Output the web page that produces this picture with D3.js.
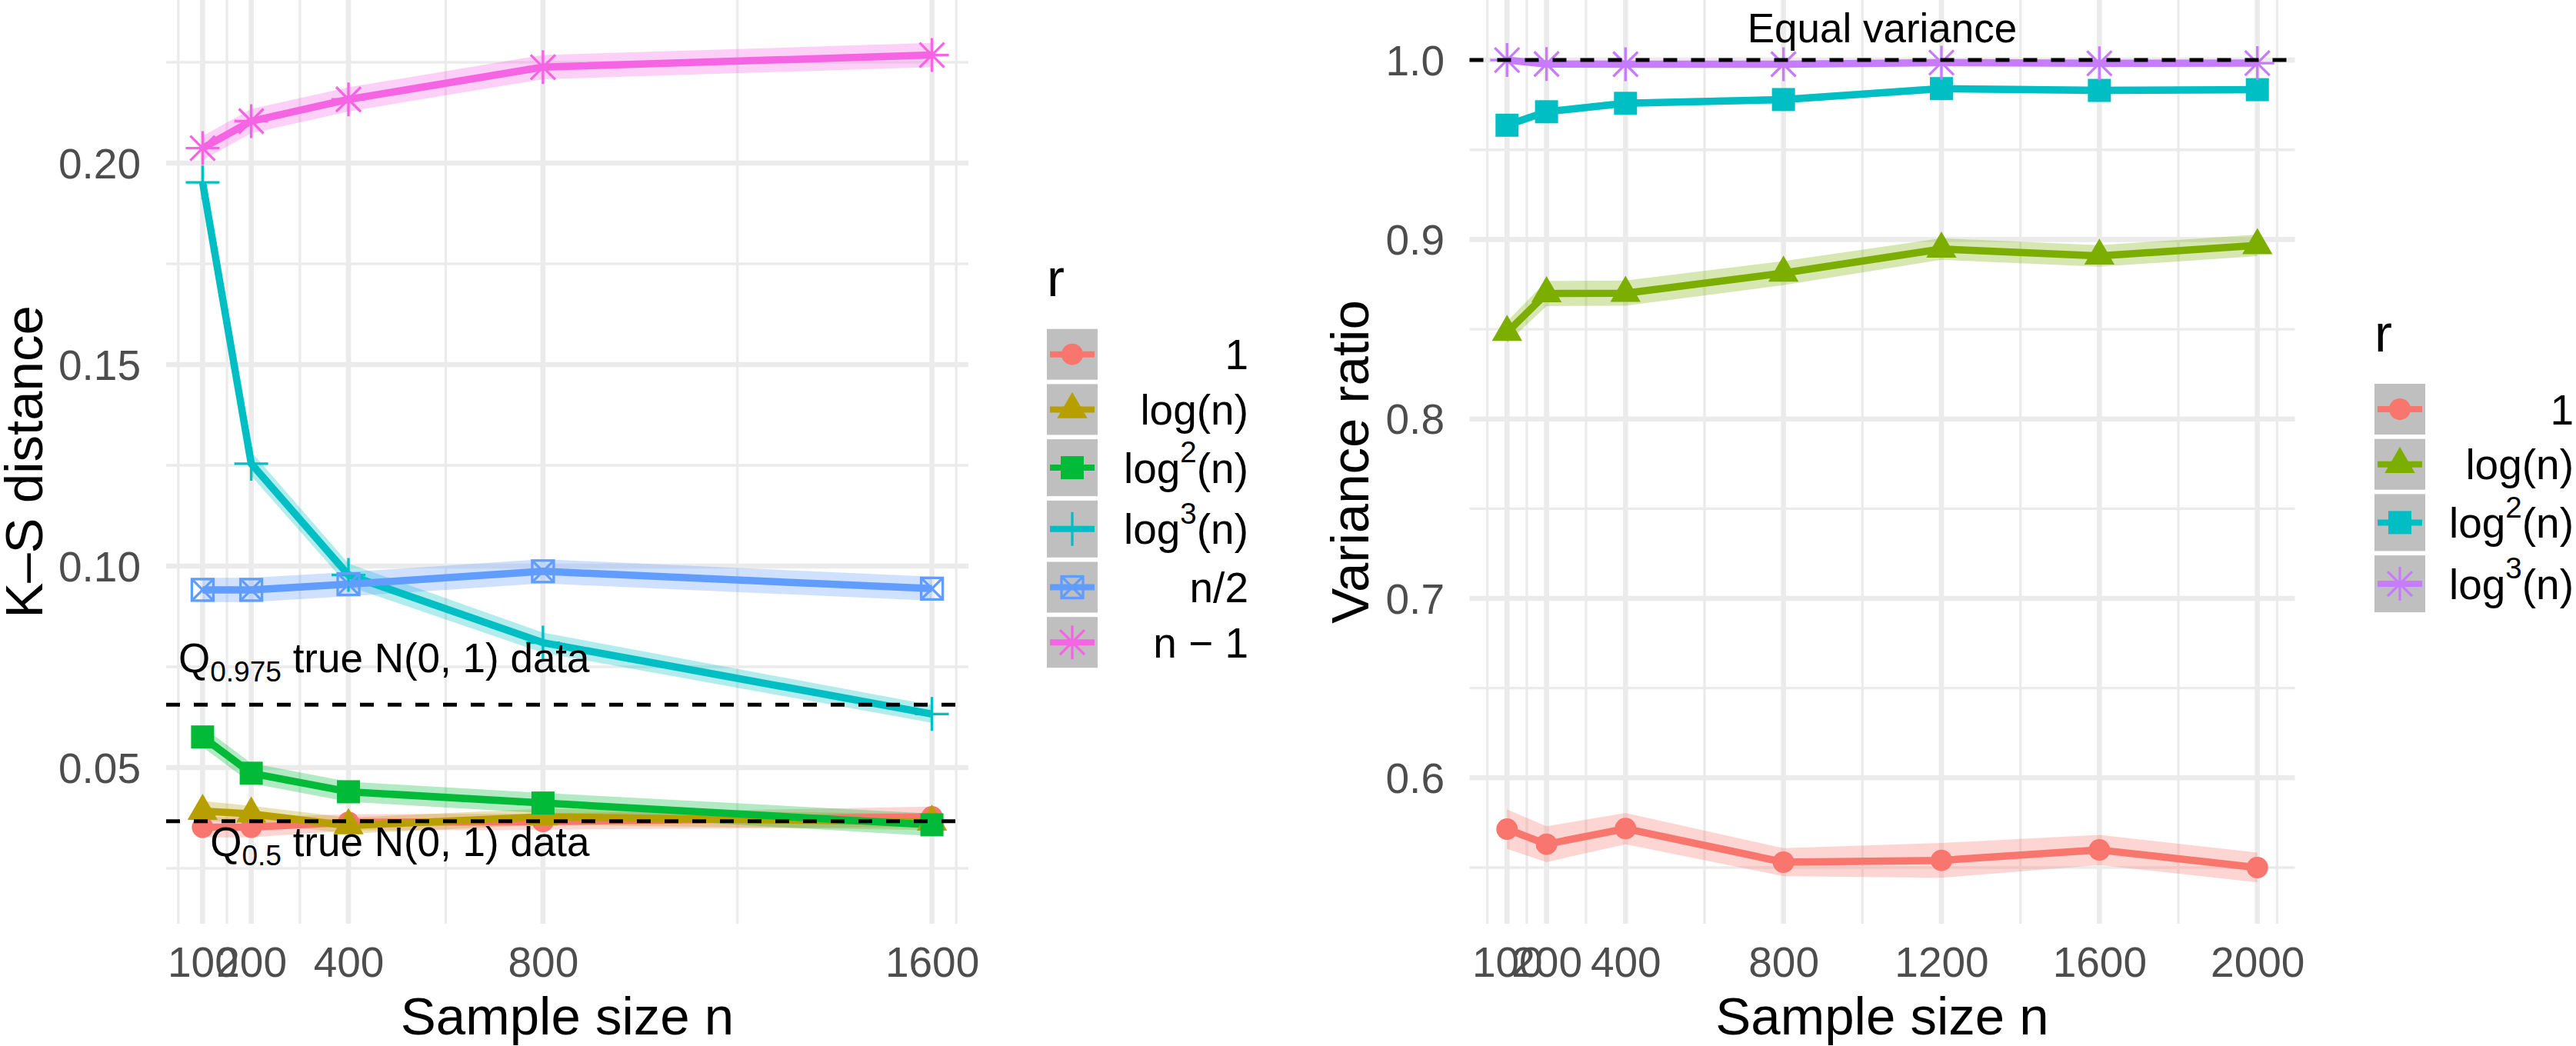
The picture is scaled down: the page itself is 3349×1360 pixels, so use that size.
<!DOCTYPE html>
<html>
<head>
<meta charset="utf-8">
<script src="https://cdn.jsdelivr.net/npm/d3@7"></script>
<style>
  body { margin: 0; background: #fff; }
  svg { display: block; }
  text { font-family: "Liberation Sans", Arial, Helvetica, sans-serif; }
</style>
</head>
<body>
<svg id="chart" width="3349" height="1360"></svg>
<script>
// ---------------- DATA ----------------
// Left panel: K-S distance
const ksN = [100, 200, 400, 800, 1600];
const ksR = ["1", "log(n)", "log^2(n)", "log^3(n)", "n/2", "n \u2212 1"];
const ksMean_1     = [0.0352, 0.0352, 0.0364, 0.0366, 0.0378];
const ksMean_log   = [0.0392, 0.0385, 0.0356, 0.0378, 0.0365];
const ksMean_log2  = [0.0576, 0.0486, 0.0440, 0.0412, 0.0358];
const ksMean_log3  = [0.1952, 0.1254, 0.0978, 0.0810, 0.0633];
const ksMean_half  = [0.0941, 0.0941, 0.0955, 0.0987, 0.0944];
const ksMean_nm1   = [0.2037, 0.2104, 0.2158, 0.2238, 0.2268];
const ksHW_1       = [0.0025, 0.0025, 0.0020, 0.0020, 0.0025];
const ksHW_log     = [0.0025, 0.0020, 0.0020, 0.0020, 0.0020];
const ksHW_log2    = [0.0025, 0.0025, 0.0025, 0.0025, 0.0028];
const ksHW_log3    = [0.0020, 0.0030, 0.0028, 0.0025, 0.0022];
const ksHW_half    = [0.0030, 0.0030, 0.0030, 0.0030, 0.0030];
const ksHW_nm1     = [0.0030, 0.0030, 0.0030, 0.0030, 0.0030];
const ksYTicks = [0.05, 0.10, 0.15, 0.20];
const ksYTickLabels = ["0.05", "0.10", "0.15", "0.20"];
const ksXTicks = [100, 200, 400, 800, 1600];
const ksRefLines = [0.0656, 0.0367];
const ksRefLabels = ["Q_0.975 true N(0, 1) data", "Q_0.5 true N(0, 1) data"];

// Right panel: variance ratio
const varN = [100, 200, 400, 800, 1200, 1600, 2000];
const varR = ["1", "log(n)", "log^2(n)", "log^3(n)"];
const varMean_1    = [0.5714, 0.5630, 0.5717, 0.5530, 0.5540, 0.5598, 0.5500];
const varMean_log  = [0.8483, 0.8699, 0.8701, 0.8813, 0.8947, 0.8909, 0.8967];
const varMean_log2 = [0.9637, 0.9712, 0.9759, 0.9780, 0.9841, 0.9831, 0.9835];
const varMean_log3 = [1.0000, 0.9978, 0.9977, 0.9977, 0.9986, 0.9982, 0.9983];
const varHW_1      = [0.0110, 0.0100, 0.0087, 0.0078, 0.0097, 0.0084, 0.0083];
const varHW_log    = [0.0060, 0.0070, 0.0070, 0.0067, 0.0060, 0.0060, 0.0060];
const varHW_log2   = [0.0020, 0.0020, 0.0020, 0.0020, 0.0020, 0.0020, 0.0020];
const varHW_log3   = [0.0010, 0.0010, 0.0010, 0.0010, 0.0010, 0.0010, 0.0010];
const varYTicks = [0.6, 0.7, 0.8, 0.9, 1.0];
const varYTickLabels = ["0.6", "0.7", "0.8", "0.9", "1.0"];
const varXTicks = [100, 200, 400, 800, 1200, 1600, 2000];
const varRefLines = [1.0];
const varRefLabels = ["Equal variance"];

// ---------------- STYLE ----------------
const ksColors  = ["#F8766D", "#B79F00", "#00BA38", "#00BFC4", "#619CFF", "#F564E3"];
const ksShapes  = ["circle", "triangle", "square", "plus", "squarecross", "asterisk"];
const varColors = ["#F8766D", "#7CAE00", "#00BFC4", "#C77CFF"];
const varShapes = ["circle", "triangle", "square", "asterisk"];

const FS_TICK = 55, FS_TITLE = 69, FS_LEG = 55, FS_ANN = 53;
const GRID = "#EBEBEB";
const svg = d3.select("#chart");

function richText(sel, str, fs) {
  const sup = str.match(/^(.*)\^(\d)(.*)$/);
  const sub = str.match(/^(.*)_([0-9.]+)(.*)$/);
  if (sup) {
    const sh = fs * 0.48;
    sel.append("tspan").text(sup[1]);
    sel.append("tspan").attr("dy", -sh).attr("font-size", fs * 0.7).text(sup[2]);
    sel.append("tspan").attr("dy", sh).text(sup[3]);
  } else if (sub) {
    const sh = fs * 0.22;
    sel.append("tspan").text(sub[1]);
    sel.append("tspan").attr("dy", sh).attr("font-size", fs * 0.7).text(sub[2]);
    sel.append("tspan").attr("dy", -sh).text(sub[3]);
  } else {
    sel.text(str);
  }
}

function drawShape(g, shape, x, y, color) {
  const sw = 3.3;
  if (shape === "circle") {
    g.append("circle").attr("cx", x).attr("cy", y).attr("r", 14).attr("fill", color);
  } else if (shape === "triangle") {
    g.append("path").attr("d", `M${x},${y - 22.7}L${x + 19.7},${y + 11.3}L${x - 19.7},${y + 11.3}Z`).attr("fill", color);
  } else if (shape === "square") {
    g.append("rect").attr("x", x - 15).attr("y", y - 15).attr("width", 30).attr("height", 30).attr("fill", color);
  } else if (shape === "plus") {
    g.append("path").attr("d", `M${x - 22},${y}H${x + 22}M${x},${y - 22}V${y + 22}`)
      .attr("stroke", color).attr("stroke-width", sw).attr("fill", "none");
  } else if (shape === "asterisk") {
    g.append("path").attr("d", `M${x - 22},${y}H${x + 22}M${x},${y - 22}V${y + 22}M${x - 16},${y - 16}L${x + 16},${y + 16}M${x - 16},${y + 16}L${x + 16},${y - 16}`)
      .attr("stroke", color).attr("stroke-width", sw).attr("fill", "none");
  } else if (shape === "squarecross") {
    g.append("rect").attr("x", x - 14).attr("y", y - 14).attr("width", 28).attr("height", 28)
      .attr("stroke", color).attr("stroke-width", sw).attr("fill", "none");
    g.append("path").attr("d", `M${x - 14},${y - 14}L${x + 14},${y + 14}M${x - 14},${y + 14}L${x + 14},${y - 14}`)
      .attr("stroke", color).attr("stroke-width", sw).attr("fill", "none");
  }
}

function minorBreaks(b, lim) {
  const bd = b[1] - b[0];
  let bb = b.slice();
  if (lim[0] < bb[0]) bb = [bb[0] - bd].concat(bb);
  if (lim[1] > bb[bb.length - 1]) bb.push(bb[bb.length - 1] + bd);
  const out = [];
  for (let i = 0; i < bb.length - 1; i++) out.push((bb[i] + bb[i + 1]) / 2);
  return out.filter(v => v >= lim[0] && v <= lim[1]);
}

function drawPanel(cfg) {
  const g = svg.append("g");
  const x = d3.scaleLinear().domain(cfg.xDom).range([cfg.x0, cfg.x1]);
  const y = d3.scaleLinear().domain(cfg.yDom).range([cfg.y1, cfg.y0]);
  // grid
  const xMin = minorBreaks(cfg.xTicks, cfg.xDom), yMin = minorBreaks(cfg.yTicks, cfg.yDom);
  g.selectAll(".hmin").data(yMin).join("line")
    .attr("x1", cfg.x0).attr("x2", cfg.x1).attr("y1", d => y(d)).attr("y2", d => y(d))
    .attr("stroke", GRID).attr("stroke-width", 3.3);
  g.selectAll(".vmin").data(xMin).join("line")
    .attr("y1", cfg.y0).attr("y2", cfg.y1).attr("x1", d => x(d)).attr("x2", d => x(d))
    .attr("stroke", GRID).attr("stroke-width", 3.3);
  g.selectAll(".hmaj").data(cfg.yTicks).join("line")
    .attr("x1", cfg.x0).attr("x2", cfg.x1).attr("y1", d => y(d)).attr("y2", d => y(d))
    .attr("stroke", GRID).attr("stroke-width", 6.6);
  g.selectAll(".vmaj").data(cfg.xTicks).join("line")
    .attr("y1", cfg.y0).attr("y2", cfg.y1).attr("x1", d => x(d)).attr("x2", d => x(d))
    .attr("stroke", GRID).attr("stroke-width", 6.6);

  // axes text
  const yAxis = d3.axisLeft(y).tickValues(cfg.yTicks).tickFormat((d, i) => cfg.yTickLabels[i]).tickSize(0).tickPadding(0);
  const ya = g.append("g").attr("transform", `translate(${cfg.yLabelX},0)`).call(yAxis);
  ya.select(".domain").remove();
  ya.selectAll("text").attr("font-size", FS_TICK).attr("fill", "#4D4D4D")
    .attr("font-family", "Liberation Sans, Arial, sans-serif").attr("dy", "0.35em");
  const xAxis = d3.axisBottom(x).tickValues(cfg.xTicks).tickFormat(d3.format("d")).tickSize(0).tickPadding(0);
  const xa = g.append("g").attr("transform", `translate(0,0)`).call(xAxis);
  xa.select(".domain").remove();
  xa.selectAll("text").attr("font-size", FS_TICK).attr("fill", "#4D4D4D")
    .attr("font-family", "Liberation Sans, Arial, sans-serif").attr("y", 1270).attr("dy", 0);

  g.append("text").attr("x", (cfg.x0 + cfg.x1) / 2).attr("y", 1345).attr("text-anchor", "middle")
    .attr("font-size", FS_TITLE).attr("fill", "#000").text("Sample size n");
  g.append("text").attr("transform", `translate(${cfg.yTitleX},${(cfg.y0 + cfg.y1) / 2}) rotate(-90)`)
    .attr("text-anchor", "middle").attr("font-size", FS_TITLE).attr("fill", "#000").text(cfg.yTitle);

  // series
  const series = cfg.names.map((nm, i) => ({
    name: nm, color: cfg.colors[i], shape: cfg.shapes[i],
    pts: cfg.ns.map((n, j) => ({ n: n, v: cfg.means[i][j], hw: cfg.hws[i][j] }))
  }));
  const area = d3.area().x(d => x(d.n)).y0(d => y(d.v - d.hw)).y1(d => y(d.v + d.hw));
  const line = d3.line().x(d => x(d.n)).y(d => y(d.v));
  g.selectAll(".rib").data(series).join("path")
    .attr("d", s => area(s.pts)).attr("fill", s => s.color).attr("fill-opacity", 0.3);
  g.selectAll(".ln").data(series).join("path")
    .attr("d", s => line(s.pts)).attr("fill", "none").attr("stroke", s => s.color)
    .attr("stroke-width", 9.5).attr("stroke-linejoin", "round");
  series.forEach(s => s.pts.forEach(p => drawShape(g, s.shape, x(p.n), y(p.v), s.color)));

  // reference lines
  g.selectAll(".ref").data(cfg.refLines).join("line")
    .attr("x1", cfg.x0).attr("x2", cfg.x1).attr("y1", d => y(d)).attr("y2", d => y(d))
    .attr("stroke", "#000").attr("stroke-width", 5).attr("stroke-dasharray", "18,18");
  cfg.refLabels.forEach((lab, i) => {
    const t = g.append("text").attr("x", x(cfg.refLabelPos[i][0])).attr("y", y(cfg.refLabelPos[i][1]))
      .attr("text-anchor", cfg.refAnchor).attr("font-size", FS_ANN).attr("fill", "#000");
    richText(t, lab, FS_ANN);
  });

  // legend
  const lg = svg.append("g");
  lg.append("text").attr("x", cfg.legX).attr("y", cfg.legTitleY).attr("font-size", FS_TITLE).attr("fill", "#000").text("r");
  let top = cfg.legTop;
  series.forEach(s => {
    const h = s.name.includes("^") ? 74 : 66;
    lg.append("rect").attr("x", cfg.legX).attr("y", top).attr("width", 66).attr("height", h).attr("fill", "#BFBFBF");
    const cy = top + h / 2;
    lg.append("line").attr("x1", cfg.legX + 4).attr("x2", cfg.legX + 62).attr("y1", cy).attr("y2", cy)
      .attr("stroke", s.color).attr("stroke-width", 8);
    drawShape(lg, s.shape, cfg.legX + 33, cy, s.color);
    const t = lg.append("text").attr("x", cfg.legLabelX).attr("y", cy).attr("dy", FS_LEG * 0.355)
      .attr("text-anchor", "end").attr("font-size", FS_LEG).attr("fill", "#000");
    richText(t, s.name, FS_LEG);
    top += h + 5.7;
  });
}

drawPanel({
  x0: 216, x1: 1259, y0: 0, y1: 1201,
  xDom: [25, 1675], yDom: [0.01126, 0.24046],
  xTicks: ksXTicks, yTicks: ksYTicks, yTickLabels: ksYTickLabels,
  yLabelX: 183, yTitleX: 55, yTitle: "K\u2013S distance",
  ns: ksN, names: ksR, colors: ksColors, shapes: ksShapes,
  means: [ksMean_1, ksMean_log, ksMean_log2, ksMean_log3, ksMean_half, ksMean_nm1],
  hws: [ksHW_1, ksHW_log, ksHW_log2, ksHW_log3, ksHW_half, ksHW_nm1],
  refLines: ksRefLines, refLabels: ksRefLabels,
  refLabelPos: [[896, 0.0736], [896, 0.0280]], refAnchor: "end",
  legX: 1361, legTitleY: 385, legTop: 427.7, legLabelX: 1623
});

drawPanel({
  x0: 1910.5, x1: 2983.5, y0: 0, y1: 1201,
  xDom: [5, 2095], yDom: [0.5187, 1.03348],
  xTicks: varXTicks, yTicks: varYTicks, yTickLabels: varYTickLabels,
  yLabelX: 1878, yTitleX: 1779, yTitle: "Variance ratio",
  ns: varN, names: varR, colors: varColors, shapes: varShapes,
  means: [varMean_1, varMean_log, varMean_log2, varMean_log3],
  hws: [varHW_1, varHW_log, varHW_log2, varHW_log3],
  refLines: varRefLines, refLabels: varRefLabels,
  refLabelPos: [[1050, 1.0100]], refAnchor: "middle",
  legX: 3087, legTitleY: 457, legTop: 499, legLabelX: 3346
});
</script>
</body>
</html>
